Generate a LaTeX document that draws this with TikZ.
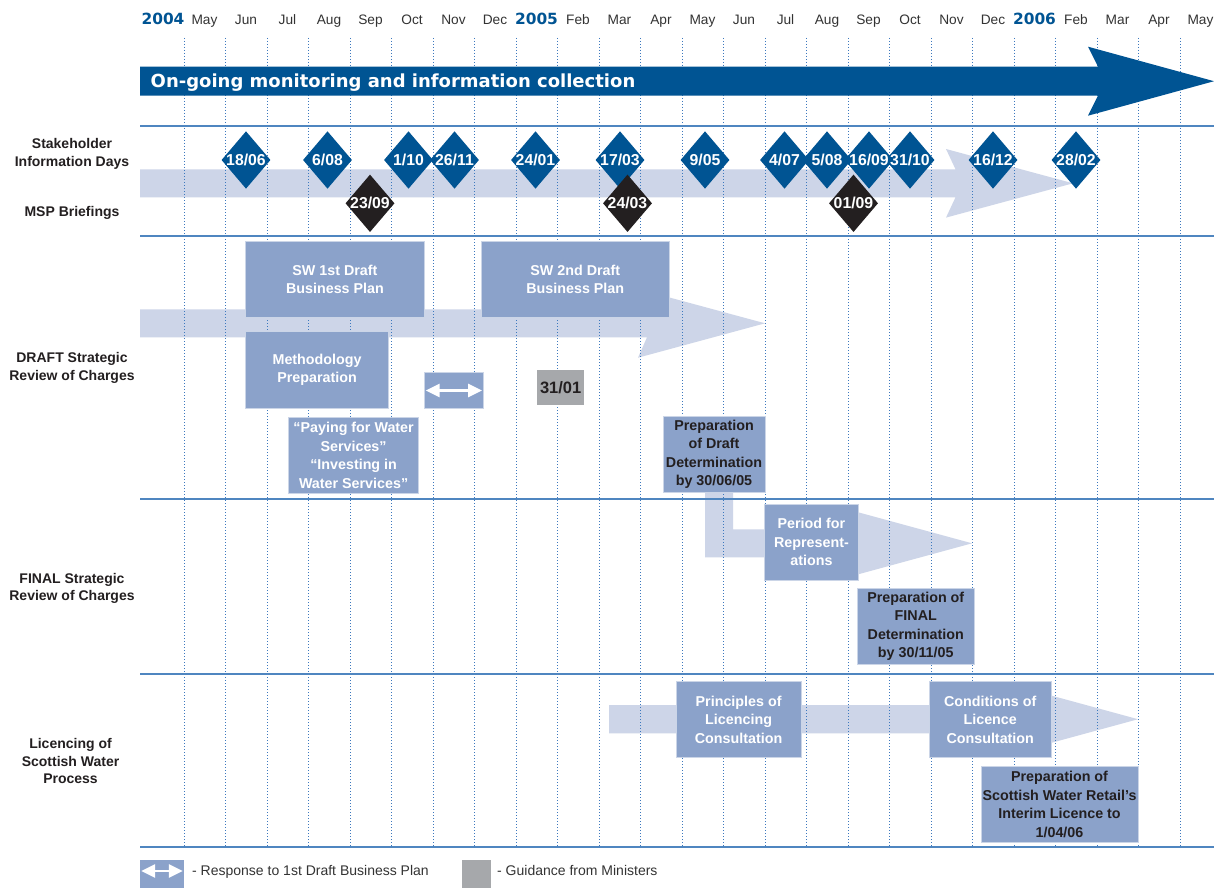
\documentclass[tikz,border=0pt]{standalone}
\usepackage{fontspec}
\setmainfont{Liberation Sans}
\newfontfamily\widefont{DejaVu Sans}
\usetikzlibrary{shapes.geometric,arrows.meta}
\definecolor{dblue}{RGB}{0,84,147}
\definecolor{lband}{RGB}{205,213,232}
\definecolor{boxblue}{RGB}{139,162,202}
\definecolor{sepblue}{RGB}{79,134,192}
\definecolor{dotblue}{RGB}{60,120,190}
\definecolor{blk}{RGB}{35,31,32}
\definecolor{gbox}{RGB}{166,168,171}
\definecolor{mgray}{RGB}{51,51,51}
\begin{document}
\begin{tikzpicture}[x=1pt,y=-1pt,
  month/.style={anchor=base, font=\fontsize{13.7}{16}\selectfont, text=mgray, inner sep=0pt},
  year/.style={anchor=base, font=\widefont\bfseries\fontsize{15.4}{18}\selectfont, text=dblue, inner sep=0pt},
  rowlab/.style={align=center, font=\bfseries\fontsize{14}{17.5}\selectfont, text=blk, inner sep=0pt},
  box/.style={fill=boxblue, draw=white!55!boxblue, line width=0.7pt, inner sep=0pt, align=center, text=white, font=\bfseries\fontsize{14.3}{18.5}\selectfont},
  dbox/.style={box, text=blk},
  gmbox/.style={fill=gbox, inner sep=0pt, text=blk, font=\bfseries\fontsize{16.5}{18}\selectfont},
  sdia/.style={diamond, fill=dblue, minimum width=49pt, minimum height=57.5pt, inner sep=0pt},
  mdia/.style={sdia, fill=blk},
  dlab/.style={text=white, font=\bfseries\fontsize{15.8}{18}\selectfont, inner sep=0pt},
  sepline/.style={draw=sepblue, line width=1.6pt},
  gridline/.style={draw=dotblue, line width=0.8pt, dash pattern=on 0.8pt off 2.2pt},
  band/.style={fill=lband},
  legtext/.style={anchor=base west, font=\fontsize{14}{16}\selectfont, text=mgray, inner sep=0pt},
  warrow/.style={draw=white, line width=2.7pt, arrows={Triangle[length=14pt,width=13pt]-Triangle[length=14pt,width=13pt]}}
]
\useasboundingbox (0,0) rectangle (1214,888);
\fill[white] (0,0) rectangle (1214,888);

% light bands
\fill[band] (140,169.3) -- (955.5,169.3) -- (946,149) -- (1073,183.3) -- (946,217.6) -- (955.5,197.3) -- (140,197.3) -- cycle;
\fill[band] (140,309.3) -- (647,309.3) -- (638,289) -- (765,323.3) -- (638,357.7) -- (647,337.3) -- (140,337.3) -- cycle;
\fill[band] (705,492) -- (733,492) -- (733,529.3) -- (855,529.3) -- (845,508.7) -- (972,543.3) -- (845,577.9) -- (855,557.3) -- (705,557.3) -- cycle;
\fill[band] (609,705) -- (1021,705) -- (1011,684.6) -- (1138,719.2) -- (1011,753.8) -- (1021,733.3) -- (609,733.3) -- cycle;

% grid
\foreach \j in {0,...,24}
  \draw[gridline] ({184+41.5*\j},38) -- ({184+41.5*\j},847);

% banner
\fill[dblue] (140,66.7) -- (1098,66.7) -- (1088,46.7) -- (1214,81.2) -- (1088,115.7) -- (1098,95.7) -- (140,95.7) -- cycle;
\node[anchor=base west, text=white, font=\widefont\bfseries\fontsize{18}{20}\selectfont, inner sep=0pt] (bantext) at (150.5,87.3) {On-going monitoring and information collection};

% separators
\foreach \yy in {126,236,499,674,847}
  \draw[sepline] (140,\yy) -- (1214,\yy);

% month labels
\node[year] (y2004) at (163,24.5) {2004};
\node[year] (y2005) at ({163+41.5*9},24.5) {2005};
\node[year] (y2006) at ({163+41.5*21},24.5) {2006};
\foreach \k/\m in {1/May,2/Jun,3/Jul,4/Aug,5/Sep,6/Oct,7/Nov,8/Dec,10/Feb,11/Mar,12/Apr,13/May,14/Jun,15/Jul,16/Aug,17/Sep,18/Oct,19/Nov,20/Dec,22/Feb,23/Mar,24/Apr,25/May}
  \node[month] (m\k) at ({163+41.5*\k},24.5) {\m};

% row labels
\node[rowlab] (l1) at (72,154) {Stakeholder\\Information Days};
\node[rowlab] (l2) at (72,212.5) {MSP Briefings};
\node[rowlab] (l3) at (72,368) {DRAFT Strategic\\Review of Charges};
\node[rowlab] (l4) at (72,588.5) {FINAL Strategic\\Review of Charges};
\node[rowlab] (l5) at (70.5,761) {Licencing of\\Scottish Water\\Process};

% boxes
\node[box, minimum width=179.1pt, minimum height=76.3pt] (sw1) at (334.95,279.15) {SW 1st Draft\\Business Plan};
\node[box, minimum width=187.3pt, minimum height=76.3pt] (sw2) at (575.25,279.15) {SW 2nd Draft\\Business Plan};
\node[box, minimum width=143.4pt, minimum height=76.6pt] (meth) at (317.1,370) {Methodology\\Preparation};
\node[box, minimum width=58.7pt, minimum height=35.6pt] (resp) at (453.85,390.5) {};
\draw[warrow] ([xshift=1.5pt]resp.west) -- ([xshift=-1.5pt]resp.east);
\node[gmbox, minimum width=47pt, minimum height=35pt] (gmin) at (560.7,387.5) {31/01};
\node[box, minimum width=129.6pt, minimum height=76pt] (pay) at (353.6,455.3) {“Paying for Water\\Services”\\“Investing in\\Water Services”};
\node[dbox, minimum width=102pt, minimum height=75.6pt] (pdd) at (714,454.5) {Preparation\\of Draft\\Determination\\by 30/06/05};
\node[box, minimum width=93.9pt, minimum height=75.7pt] (per) at (811.45,542.15) {Period for\\Represent-\\ations};
\node[dbox, minimum width=116.3pt, minimum height=75.7pt] (pfd) at (915.75,626.15) {Preparation of\\FINAL\\Determination\\by 30/11/05};
\node[box, minimum width=125.4pt, minimum height=75.6pt] (pri) at (738.6,719.5) {Principles of\\Licencing\\Consultation};
\node[box, minimum width=122.4pt, minimum height=75.6pt] (con) at (990.2,719.5) {Conditions of\\Licence\\Consultation};
\node[dbox, minimum width=157pt, minimum height=75.3pt] (psw) at (1059.5,804.35) {Preparation of\\Scottish Water Retail’s\\Interim Licence to\\1/04/06};

% stakeholder diamonds
\foreach \n/\x/\d/\mm in {s1/246/18/06,s2/327.5/6/08,s3/408.5/1/10,s4/454.5/26/11,s5/535.5/24/01,s6/620/17/03,s7/705/9/05,s8/784.5/4/07,s9/827/5/08,s10/869/16/09,s11/910/31/10,s12/993/16/12,s13/1076/28/02}
  \node[sdia] (\n) at (\x,160) {};
\foreach \n/\x/\d/\mm in {s1/246/18/06,s2/327.5/6/08,s3/408.5/1/10,s4/454.5/26/11,s5/535.5/24/01,s6/620/17/03,s7/705/9/05,s8/784.5/4/07,s9/827/5/08,s10/869/16/09,s11/910/31/10,s12/993/16/12,s13/1076/28/02}
  \node[dlab] (\n t) at (\n) {\d/\mm};
% MSP diamonds
\foreach \n/\x/\d/\mm in {b1/370/23/09,b2/627.5/24/03,b3/853.5/01/09}
  \node[mdia] (\n) at (\x,203.3) {};
\foreach \n/\x/\d/\mm in {b1/370/23/09,b2/627.5/24/03,b3/853.5/01/09}
  \node[dlab] (\n t) at (\n) {\d/\mm};

% legend
\node[box, draw=none, minimum width=44pt, minimum height=28pt] (legA) at (162,874) {};
\draw[warrow] ([xshift=1.5pt,yshift=3pt]legA.west) -- ([xshift=-1.5pt,yshift=3pt]legA.east);
\node[legtext] (legAt) at (192,875.5) {- Response to 1st Draft Business Plan};
\node[fill=gbox, minimum width=29pt, minimum height=28pt, inner sep=0pt] (legB) at (476.5,874) {};
\node[legtext] (legBt) at (497,875.5) {- Guidance from Ministers};
\end{tikzpicture}
\end{document}
